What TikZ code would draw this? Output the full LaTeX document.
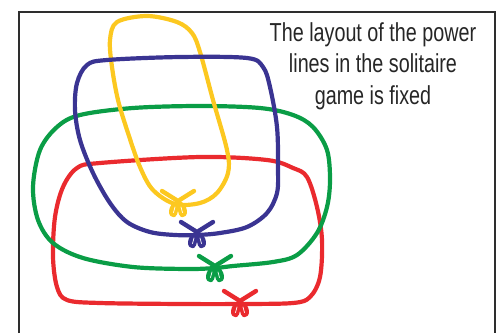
\documentclass[tikz,border=0pt]{standalone}
\usepackage{fontspec}
\newfontfamily\lblfont{Liberation Sans}[FakeStretch=0.76]
\definecolor{cyel}{HTML}{FCC820}
\definecolor{cblue}{HTML}{3A3492}
\definecolor{cgreen}{HTML}{0A9D46}
\definecolor{cred}{HTML}{EA2A2E}
\definecolor{cframe}{HTML}{2E2E2E}
\tikzset{
  loopline/.style={line width=4.2pt, line join=round, line cap=round},
  knotline/.style={line width=4.4pt, line cap=round, line join=round},
  petal/.style={line width=2.6pt, line join=round},
  knot/.pic={
    \draw[knotline] (-16,-10) -- (0,0) -- (16,-10);
    \draw[petal, fill] (0,0) .. controls (-10,5) and (-9,16) .. (-4,15) .. controls (-1,14) and (-1,6) .. (0,0);
    \draw[petal, fill] (0,0) .. controls (10,5) and (9,16) .. (4,15) .. controls (1,14) and (1,6) .. (0,0);
    \draw[white, line width=0.7pt, line cap=round] (-3,6) -- (-4.5,11.5);
    \draw[white, line width=0.7pt, line cap=round] (3,6) -- (4.5,11.5);
  },
  lbl/.style={font=\lblfont\fontsize{26}{31.5}\selectfont, align=center, text=black!85}
}
\begin{document}
\begin{tikzpicture}[x=1pt,y=-1pt]
\useasboundingbox (0,0) rectangle (501,333);
% frame
\draw[cframe, line width=2.4pt] (19,333) -- (19,12) -- (495,12) -- (495,333);
% red loop
\draw[loopline, cred] plot[smooth cycle, tension=0.55] coordinates {
 (240,304) (293,303) (310,297) (320,277) (322,240) (317,207) (307,177) (293,168)
 (267,160) (200,157) (100,163) (77,168) (63,187) (55,217) (53,257) (57,287)
 (67,300) (100,303) (183,304)};
\pic[cred] at (240,301) {knot};
% green loop
\draw[loopline, cgreen] plot[smooth cycle, tension=0.55] coordinates {
 (215,268) (233,266) (273,262) (297,255) (317,233) (327,207) (330,180) (327,150)
 (313,127) (293,115) (260,108) (200,106) (133,108) (80,115) (57,127) (40,150)
 (33,187) (38,220) (53,243) (83,258) (133,267) (187,269)};
\pic[cgreen] at (215,266) {knot};
% yellow loop
\draw[loopline, cyel] plot[smooth cycle, tension=0.55] coordinates {
 (175,204) (200,203) (217,193) (228,173) (227,150) (213,100) (200,52) (192,33)
 (177,22) (147,16) (117,22) (110,40) (112,67) (118,100) (128,133) (140,167) (153,190)};
\pic[cyel] at (178,201) {knot};
% blue loop
\draw[loopline, cblue] plot[smooth cycle, tension=0.55] coordinates {
 (197,235) (220,233) (247,227) (267,213) (277,193) (278,167) (277,127) (270,87)
 (263,67) (247,58) (180,57) (107,60) (87,65) (77,83) (75,110) (80,140) (93,173)
 (110,203) (127,222) (150,232) (175,235)};
\pic[cblue] at (197,232) {knot};
% label
\node[lbl] (title) at (373,66) {The layout of the power\\lines in the solitaire\\game is fixed};
\end{tikzpicture}
\end{document}
